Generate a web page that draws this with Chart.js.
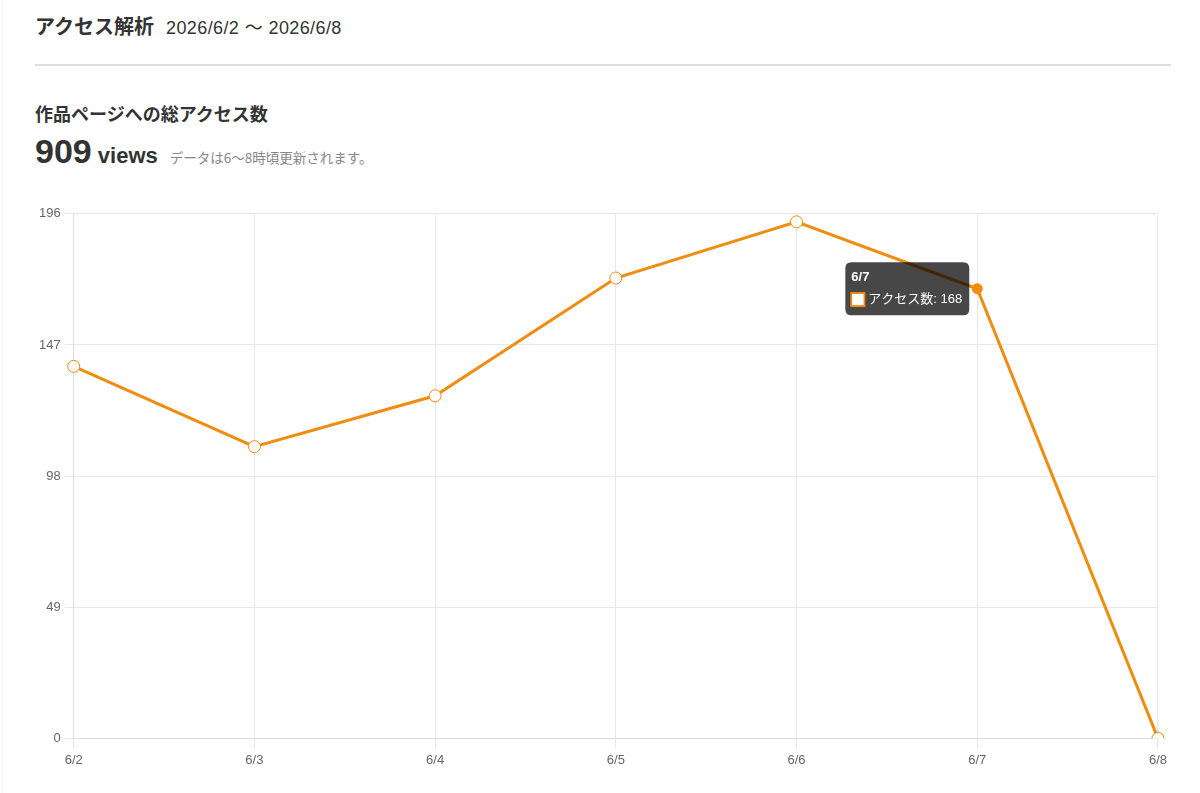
<!DOCTYPE html>
<html lang="ja">
<head>
<meta charset="utf-8">
<script src="https://cdn.jsdelivr.net/npm/chart.js@4.4.1/dist/chart.umd.min.js"></script>
<style>
  html, body { margin: 0; padding: 0; background: #fff; }
  body { width: 1200px; height: 793px; position: relative; overflow: hidden;
         font-family: "Liberation Sans", "Noto Sans CJK JP", sans-serif; color: #333; }
  .edge { position: absolute; left: 2px; top: 0; bottom: 0; width: 1px; background: #f2f2f2; }
  .h1 { position: absolute; left: 35px; top: 11px; font-size: 20px; font-weight: bold;
        font-family: "Noto Sans CJK JP", sans-serif; color: #333; white-space: nowrap; }
  .h1 .date { font-family: "Liberation Sans", "Noto Sans CJK JP", sans-serif; font-weight: normal;
        font-size: 18px; margin-left: 12px; color: #333; letter-spacing: 0.4px; }
  .hr { position: absolute; left: 35px; top: 64px; width: 1136px; height: 2px; background: #dcdcdc; }
  .h2 { position: absolute; left: 35px; top: 100px; font-size: 18px; font-weight: bold;
        font-family: "Noto Sans CJK JP", sans-serif; color: #333; white-space: nowrap; }
  .total { position: absolute; left: 35px; top: 132px; white-space: nowrap; color: #333; }
  .total .num { font-size: 34px; font-weight: bold; font-family: "Liberation Sans", sans-serif; }
  .total .unit { font-size: 22px; font-weight: bold; font-family: "Liberation Sans", sans-serif; margin-left: 0px; }
  .total .note { font-size: 13.5px; color: #888; margin-left: 12px; font-family: "Noto Sans CJK JP", sans-serif; }
  .chartbox { position: absolute; left: 35px; top: 202px; width: 1136px; height: 570px; }
</style>
</head>
<body>
<div class="edge"></div>
<div class="h1">アクセス解析<span class="date">2026/6/2 〜 2026/6/8</span></div>
<div class="hr"></div>
<div class="h2">作品ページへの総アクセス数</div>
<div class="total"><span class="num">909</span><span class="unit"> views</span><span class="note">データは6〜8時頃更新されます。</span></div>
<div class="chartbox"><canvas id="c"></canvas></div>
<script>
const categories = ["6/2", "6/3", "6/4", "6/5", "6/6", "6/7", "6/8"];
const seriesLabel = "アクセス数";
const accessCounts = [139, 109, 128, 172, 193, 168, 0];
const yTickMax = 196;
const yTickStep = 49;
const activeIndex = 5;

const orange = "#f08c0f";
const chart = new Chart(document.getElementById("c"), {
  type: "line",
  data: {
    labels: categories,
    datasets: [{
      label: seriesLabel,
      data: accessCounts,
      borderColor: orange,
      backgroundColor: "#ffffff",
      borderWidth: 3,
      tension: 0,
      fill: false,
      pointRadius: 6,
      pointBorderWidth: 1,
      pointBackgroundColor: "#ffffff",
      pointBorderColor: orange,
      pointHoverRadius: 5,
      pointHoverBorderWidth: 1,
      pointHoverBackgroundColor: orange,
      pointHoverBorderColor: orange
    }]
  },
  options: {
    responsive: true,
    maintainAspectRatio: false,
    animation: false,
    events: [],
    layout: { padding: 0 },
    plugins: {
      legend: { display: false },
      tooltip: {
        enabled: true,
        backgroundColor: "rgba(0,0,0,0.72)",
        titleColor: "#fff",
        bodyColor: "#fff",
        titleFont: { family: "Liberation Sans", size: 13, weight: "bold" },
        bodyFont: { family: "Liberation Sans, Noto Sans CJK JP", size: 13 },
        titleMarginBottom: 7,
        padding: { left: 6, right: 7, top: 7, bottom: 8 },
        cornerRadius: 6,
        caretSize: 0,
        caretPadding: 8,
        xAlign: "right",
        yAlign: "center",
        displayColors: true,
        boxWidth: 13,
        boxHeight: 13,
        boxPadding: 2,
        callbacks: {
          labelColor: () => ({ borderColor: orange, backgroundColor: "#ffffff", borderWidth: 2 })
        }
      }
    },
    scales: {
      x: {
        offset: false,
        grid: { color: "#e8e8e8", tickLength: 10, drawTicks: true },
        border: { color: "#dcdcdc" },
        ticks: { color: "#666", font: { family: "Liberation Sans", size: 13 }, padding: 4, maxRotation: 0, autoSkip: false }
      },
      y: {
        min: 0,
        max: yTickMax,
        grid: { color: "#e8e8e8", tickLength: 9, drawTicks: true },
        border: { color: "#dcdcdc" },
        ticks: { stepSize: yTickStep, color: "#666", font: { family: "Liberation Sans", size: 13 }, padding: 4 }
      }
    }
  }
});

const meta = chart.getDatasetMeta(0);
const pt = meta.data[activeIndex];
chart.setActiveElements([{ datasetIndex: 0, index: activeIndex }]);
chart.tooltip.setActiveElements([{ datasetIndex: 0, index: activeIndex }], { x: pt.x, y: pt.y });
chart.update();
</script>
</body>
</html>
